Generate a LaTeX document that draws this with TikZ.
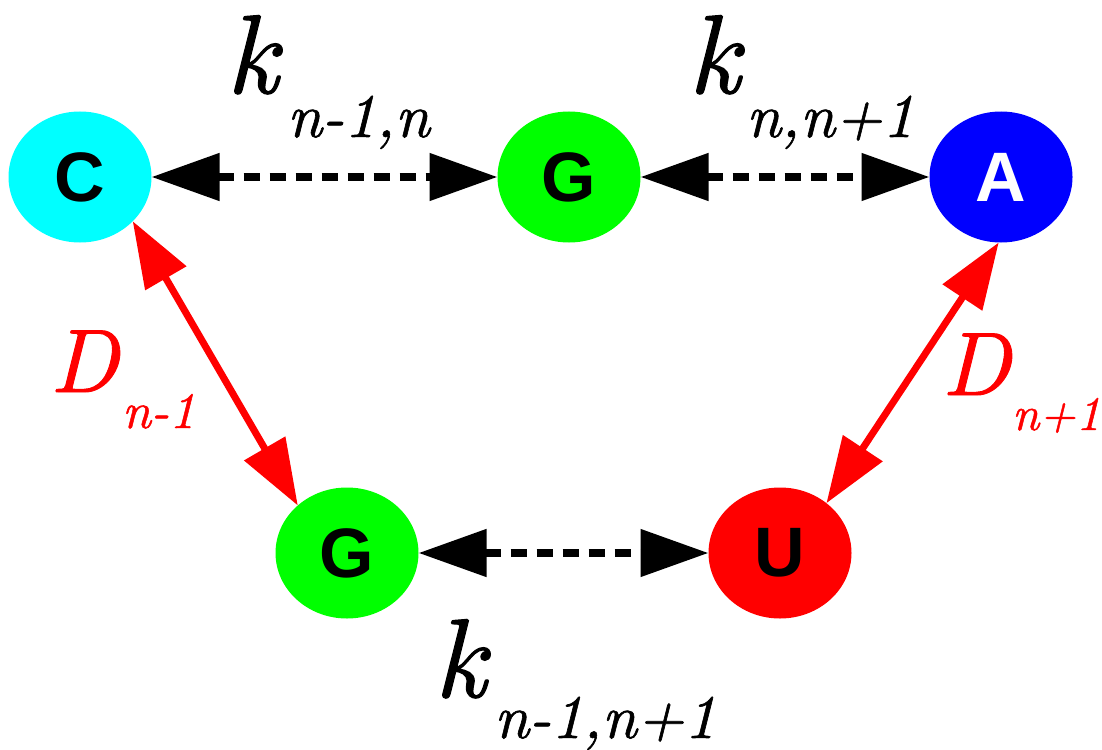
\documentclass[tikz,border=0pt]{standalone}
\usepackage{fontspec}
\newfontfamily\basefont{Liberation Sans}
\newfontfamily\labfont{lmroman10-italic.otf}[FakeBold=1]
\usetikzlibrary{shapes.geometric,arrows.meta}
\definecolor{cytcol}{RGB}{0,255,255}
\definecolor{guacol}{RGB}{0,255,0}
\definecolor{adecol}{RGB}{0,0,255}
\definecolor{uracol}{RGB}{255,0,0}
\tikzset{
  base/.style={ellipse,minimum width=143pt,minimum height=131pt,inner sep=0pt,outer sep=0pt,
    font=\basefont\bfseries\fontsize{70}{70}\selectfont},
  hop/.style={line width=8pt,dash pattern=on 16pt off 10pt,
    {Triangle[length=68pt,width=46pt]}-{Triangle[length=68pt,width=46pt]}},
  diff/.style={uracol,line width=7pt,
    {Triangle[length=66pt,width=46pt]}-{Triangle[length=66pt,width=46pt]}},
  rate/.style={inner sep=0pt,anchor=base west,font=\labfont\fontsize{112}{112}\selectfont},
  ratesub/.style={inner sep=0pt,anchor=base west,font=\labfont\fontsize{62}{62}\selectfont},
  dlab/.style={rate,uracol,font=\labfont\fontsize{90}{90}\selectfont},
  dsub/.style={ratesub,uracol,font=\labfont\fontsize{48}{48}\selectfont},
}
\begin{document}
\begin{tikzpicture}[x=1pt,y=-1pt]
  \useasboundingbox (0,0) rectangle (1102,749);
  % bases
  \node[base,fill=cytcol] (cyt) at (80,177) {C};
  \node[base,fill=guacol] (gua) at (569,177) {G};
  \node[base,fill=adecol,text=white] (ade) at (1001,177) {A};
  \node[base,fill=guacol] (guab) at (347,553) {G};
  \node[base,fill=uracol] (ura) at (780,553) {U};
  % hopping
  \draw[hop] (cyt) -- (gua);
  \draw[hop] (gua) -- (ade);
  \draw[hop] (guab) -- (ura);
  \draw[diff] (cyt.-40) -- (guab.136);
  \draw[diff] (ade.-92) -- (ura.47);
  % labels
  \node[rate] (k1) at (226,93) {k};
  \node[ratesub] (k1s) at (287,137) {n-1,n};
  \node[rate] (k2) at (688,93) {k};
  \node[ratesub] (k2s) at (746,137) {n,n+1};
  \node[rate] (k3) at (434,697) {k};
  \node[ratesub] (k3s) at (494,738) {n-1,n+1};
  \node[dlab] (d1) at (50,392) {D};
  \node[dsub,font=\labfont\fontsize{51}{51}\selectfont] (d1s) at (122,428) {n-1};
  \node[dlab] (d2) at (942,395) {D};
  \node[dsub] (d2s) at (1012,430) {n+1};
\end{tikzpicture}
\end{document}
